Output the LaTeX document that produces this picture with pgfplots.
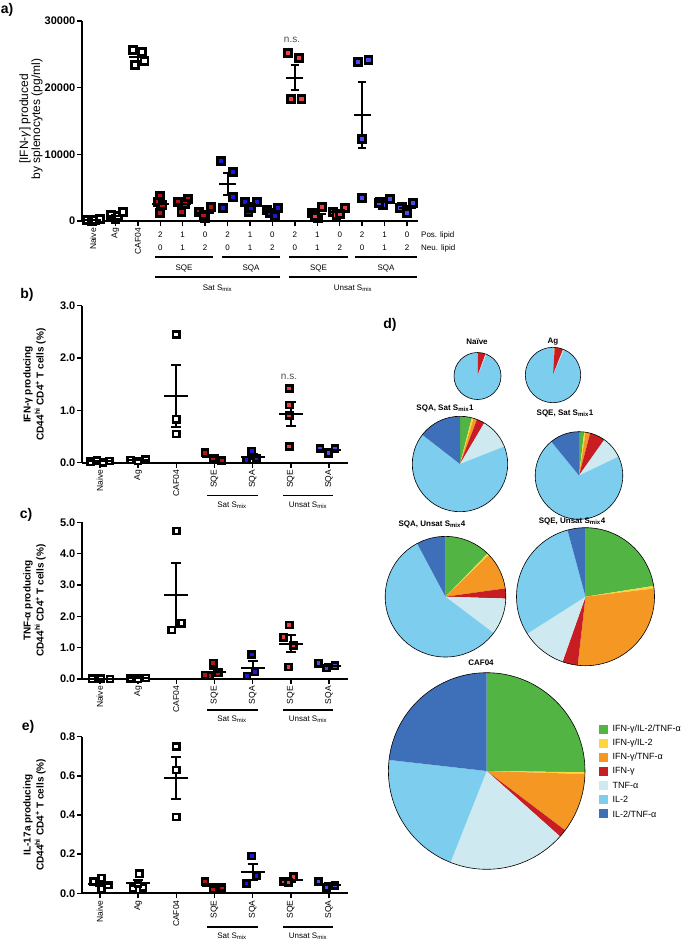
\documentclass[border=0pt]{standalone}
\usepackage{fontspec}
\setmainfont{Liberation Sans}
\usepackage{pgfplots}
\pgfplotsset{compat=1.18}

\definecolor{satE}{RGB}{180,20,20}
\definecolor{satA}{RGB}{25,25,215}
\definecolor{unsE}{RGB}{240,65,65}
\definecolor{unsA}{RGB}{75,75,230}
% pie slice colours, clockwise from 12 o'clock
\definecolor{pc1}{RGB}{82,180,66}
\definecolor{pc2}{RGB}{255,214,60}
\definecolor{pc3}{RGB}{245,152,35}
\definecolor{pc4}{RGB}{200,30,35}
\definecolor{pc5}{RGB}{206,234,240}
\definecolor{pc6}{RGB}{125,205,238}
\definecolor{pc7}{RGB}{62,112,185}

\pgfplotsset{
  panel/.style={scale only axis, clip=false,
    axis x line*=bottom, axis y line*=left,
    axis line style={line width=1.8pt},
    tick style={line width=1.5pt, black},
    tick align=outside, major tick length=5pt,
    /pgf/number format/assume math mode=true,
    yticklabel style={font=\bfseries\fontsize{11}{12}\selectfont, inner sep=1.5pt},
    xticklabel style={rotate=90, anchor=east, font=\fontsize{8.5}{9}\selectfont, inner sep=2pt},
  },
  sq/.style n args={3}{only marks, mark=square*, mark size=#2,
    mark options={draw=black, fill=#1, line width=#3}},
  errs/.style 2 args={only marks, mark=-, mark size=#1, mark options={line width=2pt, black},
    error bars/.cd, y dir=both, y explicit,
    error bar style={line width=2pt, black},
    error mark options={line width=2pt, mark size=#2, black, rotate=90}},
}

% pie: centre x, centre y (px from top left), radius, percentages
\newcommand{\pie}[4]{%
\begin{axis}[hide axis, x=1pt, y=1pt, xmin=-#3, xmax=#3, ymin=-#3, ymax=#3,
  at={(#1pt,-#2pt)}, anchor=center, clip=false]
\pgfplotsextra{%
  \gdef\acc{0}%
  \foreach \p [count=\i] in {#4} {%
    \pgfmathsetmacro\sa{90-3.6*\acc}%
    \pgfmathsetmacro\ea{90-3.6*(\acc+\p)}%
    \fill[pc\i] (axis cs:0,0) -- ++(\sa:#3pt) arc[start angle=\sa, end angle=\ea, radius=#3pt] -- cycle;
    \pgfmathsetmacro\tmp{\acc+\p}%
    \xdef\acc{\tmp}%
  }%
  \draw[line width=0.6pt] (axis cs:0,0) circle[radius=#3pt];
}
\end{axis}}

\begin{document}
\begin{tikzpicture}
\path[use as bounding box] (0,0) rectangle (685pt,-940pt);

% ---------------- a) ----------------
\begin{axis}[panel, at={(82pt,-221pt)}, anchor=south west, width=336pt, height=200pt,
  xmin=-0.49, xmax=14.49, ymin=0, ymax=30000,
  xtick={0,...,14}, xticklabels={Naive,Ag,CAF04,,,,,,,,,,,,},
  ytick={0,10000,20000,30000}, scaled y ticks=false,
  /pgf/number format/1000 sep={},
]
\addplot[sq={white}{3.5pt}{2.8pt}] coordinates {
  (-0.25,100) (-0.05,50) (0.1,200) (0.3,300)
  (0.8,900) (1.0,300) (1.1,700) (1.35,1400)
  (1.8,25650) (2.2,25300) (2.3,24000) (1.87,23400)};
\addplot[sq={satE}{3.5pt}{2.8pt}] coordinates {
  (3.0,3700) (2.9,2800) (3.1,2400) (3.0,1200)
  (3.8,2900) (3.95,1400) (4.25,3300) (4.1,2600)
  (4.74,1300) (5.0,400) (5.25,2100) (4.93,900)};
\addplot[sq={satA}{3.5pt}{2.8pt}] coordinates {
  (5.7,9050) (6.23,7400) (5.8,2000) (6.25,3650)
  (6.78,2900) (6.93,1400) (7.3,2900) (7.03,2000)
  (7.74,1650) (8.26,1950) (7.89,1200) (8.1,700)};
\addplot[sq={unsE}{3.5pt}{2.8pt}] coordinates {
  (8.7,25150) (9.19,24400) (8.81,18250) (9.3,18250)
  (9.75,1200) (10.04,400) (10.2,2100) (9.9,800)
  (10.71,1300) (11.24,1900) (10.86,900) (11.0,1100)};
\addplot[sq={unsA}{3.5pt}{2.8pt}] coordinates {
  (11.83,23900) (12.28,24100) (11.98,12250) (11.98,3400)
  (12.8,2900) (13.24,3250) (12.94,2400) (12.75,2700)
  (13.76,2150) (14.28,2750) (14.0,1150) (13.7,1900)};
\addplot[errs={8.5pt}{4.2pt}] coordinates {
  (0,162) +- (0,55) (1,825) +- (0,229) (2,24590) +- (0,530)
  (3,2525) +- (0,519) (4,2550) +- (0,409) (5,1175) +- (0,359)
  (6,5525) +- (0,1630) (7,2300) +- (0,367) (8,1375) +- (0,273)
  (9,21512) +- (0,1890) (10,1125) +- (0,364) (11,1300) +- (0,216)
  (12,15912) +- (0,5000) (13,2812) +- (0,178) (14,1988) +- (0,331)};
\end{axis}

% ---------------- b) ----------------
\begin{axis}[panel, at={(82pt,-462.7pt)}, anchor=south west, width=266pt, height=157pt,
  xmin=-0.47, xmax=6.5, ymin=0, ymax=3,
  xtick={0,...,6}, xticklabels={Naive,Ag,CAF04,SQE,SQA,SQE,SQA},
  ytick={0,1,2,3}, /pgf/number format/.cd, fixed, fixed zerofill, precision=1,
]
\addplot[sq={white}{3.1pt}{2.5pt}] coordinates {
  (-0.25,0.02) (-0.08,0.04) (0.08,0.01) (0.25,0.03)
  (0.8,0.05) (1.0,0.03) (1.2,0.06)
  (2,2.45) (2,0.83) (2,0.55)};
\addplot[sq={satE}{3.1pt}{2.5pt}] coordinates {(2.75,0.19) (2.97,0.08) (3.19,0.04)};
\addplot[sq={satA}{3.1pt}{2.5pt}] coordinates {(3.98,0.22) (3.84,0.05) (4.1,0.08)};
\addplot[sq={unsE}{3.1pt}{2.5pt}] coordinates {(4.96,1.42) (4.96,1.1) (4.96,0.9) (4.96,0.31)};
\addplot[sq={unsA}{3.1pt}{2.5pt}] coordinates {(5.77,0.27) (5.99,0.18) (6.16,0.27)};
\addplot[errs={12pt}{5pt}] coordinates {
  (0,0.025) +- (0,0.0065) (1,0.047) +- (0,0.009) (2,1.277) +- (0,0.592)
  (3,0.103) +- (0,0.045) (4,0.117) +- (0,0.052) (5,0.93) +- (0,0.233)
  (6,0.24) +- (0,0.03)};
\end{axis}

% ---------------- c) ----------------
\begin{axis}[panel, at={(82pt,-679pt)}, anchor=south west, width=266pt, height=156.7pt,
  xmin=-0.47, xmax=6.5, ymin=0, ymax=5,
  xtick={0,...,6}, xticklabels={Naive,Ag,CAF04,SQE,SQA,SQE,SQA},
  ytick={0,1,2,3,4,5}, /pgf/number format/.cd, fixed, fixed zerofill, precision=1,
]
\addplot[sq={white}{3.1pt}{2.5pt}] coordinates {
  (-0.2,0.01) (0.03,0.02) (0.26,0.0)
  (0.8,0.02) (1.0,0.01) (1.2,0.03)
  (2.01,4.72) (2.14,1.78) (1.88,1.56)};
\addplot[sq={satE}{3.1pt}{2.5pt}] coordinates {(2.97,0.5) (3.1,0.2) (2.87,0.1) (2.75,0.12)};
\addplot[sq={satA}{3.1pt}{2.5pt}] coordinates {(3.98,0.78) (4.06,0.22) (3.85,0.1)};
\addplot[sq={unsE}{3.1pt}{2.5pt}] coordinates {(4.96,1.72) (4.81,1.33) (5.07,1.08) (4.94,0.38)};
\addplot[sq={unsA}{3.1pt}{2.5pt}] coordinates {(5.73,0.5) (5.94,0.35) (6.16,0.42)};
\addplot[errs={12pt}{5pt}] coordinates {
  (0,0.01) +- (0,0.006) (1,0.02) +- (0,0.006) (2,2.69) +- (0,1.02)
  (3,0.23) +- (0,0.093) (4,0.367) +- (0,0.21) (5,1.128) +- (0,0.282)
  (6,0.423) +- (0,0.043)};
\end{axis}

% ---------------- e) ----------------
\begin{axis}[panel, at={(82pt,-893.3pt)}, anchor=south west, width=266pt, height=156.7pt,
  xmin=-0.47, xmax=6.5, ymin=0, ymax=0.8,
  xtick={0,...,6}, xticklabels={Naive,Ag,CAF04,SQE,SQA,SQE,SQA},
  ytick={0,0.2,0.4,0.6,0.8}, /pgf/number format/.cd, fixed, fixed zerofill, precision=1,
]
\addplot[sq={white}{3.1pt}{2.5pt}] coordinates {
  (-0.17,0.059) (0.04,0.077) (0.22,0.042) (0.04,0.022)
  (1.03,0.1) (0.87,0.025) (1.13,0.03) (1.0,0.05)
  (2,0.75) (2,0.63) (2,0.39)};
\addplot[sq={satE}{3.1pt}{2.5pt}] coordinates {(2.75,0.06) (2.97,0.02) (3.19,0.03)};
\addplot[sq={satA}{3.1pt}{2.5pt}] coordinates {(3.98,0.19) (3.84,0.05) (4.1,0.09)};
\addplot[sq={unsE}{3.1pt}{2.5pt}] coordinates {(4.81,0.06) (5.07,0.085) (4.94,0.055)};
\addplot[sq={unsA}{3.1pt}{2.5pt}] coordinates {(5.73,0.06) (5.94,0.03) (6.16,0.04)};
\addplot[errs={12pt}{5pt}] coordinates {
  (0,0.05) +- (0,0.012) (1,0.051) +- (0,0.017) (2,0.59) +- (0,0.106)
  (3,0.037) +- (0,0.012) (4,0.11) +- (0,0.042) (5,0.067) +- (0,0.009)
  (6,0.043) +- (0,0.009)};
\end{axis}

% ---------------- d) pies ----------------
\pie{477.5}{376}{23.5}{0,0,0.3,5.3,0.7,93.7,0}
\pie{553}{375}{27.7}{0.2,0.5,0.3,5.0,0.6,93.4,0}
\pie{460}{464}{47.7}{4,0.6,1.2,2.7,10.5,66.5,14.5}
\pie{579}{475.5}{43.8}{1.9,0.5,1.7,5.7,8.1,71.2,10.9}
\pie{445.5}{596.7}{60.3}{12.3,0.5,10,2.7,9.8,56.9,7.8}
\pie{585.5}{596.7}{69}{22.5,0.6,28.7,3.6,10.6,29.8,4.2}
\pie{486.7}{771}{98.3}{25.2,0.3,9.8,1.3,19.4,20.8,23.2}

% ---------------- annotations ----------------
\begin{scope}[x=1pt, y=-1pt]
\tikzset{lbl/.style={font=\bfseries\fontsize{14}{14}\selectfont, inner sep=0pt}}
\node[lbl] at (7,10) {a)};
\node[lbl] at (27,295) {b)};
\node[lbl] at (26,515) {c)};
\node[lbl] at (28,727) {e)};
\node[lbl] at (390,325) {d)};

% y labels
\node[rotate=90, align=center, font=\fontsize{12}{12}\selectfont] at (31,119)
  {[IFN-\textit{γ}] produced\\by splenocytes (pg/ml)};
\tikzset{ylb/.style={rotate=90, align=center, font=\bfseries\fontsize{10}{13}\selectfont}}
\node[ylb] at (34.5,384.5) {IFN-γ producing\\CD44\textsuperscript{hi} CD4\textsuperscript{+} T cells (\%)};
\node[ylb] at (34.5,600.5) {TNF-α producing\\CD44\textsuperscript{hi} CD4\textsuperscript{+} T cells (\%)};
\node[ylb] at (34.5,815) {IL-17a producing\\CD44\textsuperscript{hi} CD4\textsuperscript{+} T cells (\%)};

% n.s.
\node[font=\fontsize{10}{11}\selectfont, text=black!70] at (292,40) {n.s.};
\node[font=\fontsize{10}{11}\selectfont, text=black!70] at (289,377) {n.s.};

% lipid rows under a)
\tikzset{sm/.style={font=\fontsize{8}{9}\selectfont, inner sep=0pt}}
\foreach \i/\p/\n in {3/2/0,4/1/1,5/0/2,6/2/0,7/1/1,8/0/2,9/2/0,10/1/1,11/0/2,12/2/0,13/1/1,14/0/2} {
  \node[sm] at ({93+22.43*\i},235) {\p};
  \node[sm] at ({93+22.43*\i},248) {\n};
}
\node[sm, anchor=west] at (421,235) {Pos. lipid};
\node[sm, anchor=west] at (421,248) {Neu. lipid};
\foreach \a/\b in {155/213,222/280,289/348,355/417} \draw[line width=1.8pt] (\a,257) -- (\b,257);
\node[sm] at (184,268) {SQE};
\node[sm] at (251,268) {SQA};
\node[sm] at (318.5,268) {SQE};
\node[sm] at (386,268) {SQA};
\draw[line width=1.8pt] (155,277) -- (280,277);
\draw[line width=1.8pt] (289,277) -- (417,277);
\node[sm] at (217.5,288) {Sat S\textsubscript{mix}};
\node[sm] at (353,288) {Unsat S\textsubscript{mix}};

% group lines under b), c), e)
\foreach \ly/\ty in {495.5/505, 710/719, 927/936} {
  \draw[line width=1.8pt] (207,\ly) -- (258,\ly);
  \draw[line width=1.8pt] (283,\ly) -- (333,\ly);
  \node[sm] at (232,\ty) {Sat S\textsubscript{mix}};
  \node[sm] at (308,\ty) {Unsat S\textsubscript{mix}};
}

% pie titles
\tikzset{pt/.style={font=\bfseries\fontsize{8}{9}\selectfont, inner sep=0pt}}
\node[pt] at (477,342) {Naïve};
\node[pt] at (553,342) {Ag};
\node[pt] at (445,408) {SQA, Sat S\textsubscript{mix}1};
\node[pt] at (565,413) {SQE, Sat S\textsubscript{mix}1};
\node[pt] at (432,524) {SQA, Unsat S\textsubscript{mix}4};
\node[pt] at (572,521) {SQE, Unsat S\textsubscript{mix}4};
\node[pt] at (481,663) {CAF04};

% legend
\foreach \t [count=\i] in {IFN-γ/IL-2/TNF-α, IFN-γ/IL-2, IFN-γ/TNF-α, IFN-γ, TNF-α, IL-2, IL-2/TNF-α} {
  \pgfmathsetmacro\yy{729.3+14.1*(\i-1)}
  \fill[pc\i] (599,\yy-4.5) rectangle (608,\yy+4.5);
  \node[font=\fontsize{9}{10}\selectfont, anchor=west, inner sep=0pt] at (612.5,\yy) {\t};
}
\end{scope}
\end{tikzpicture}
\end{document}
